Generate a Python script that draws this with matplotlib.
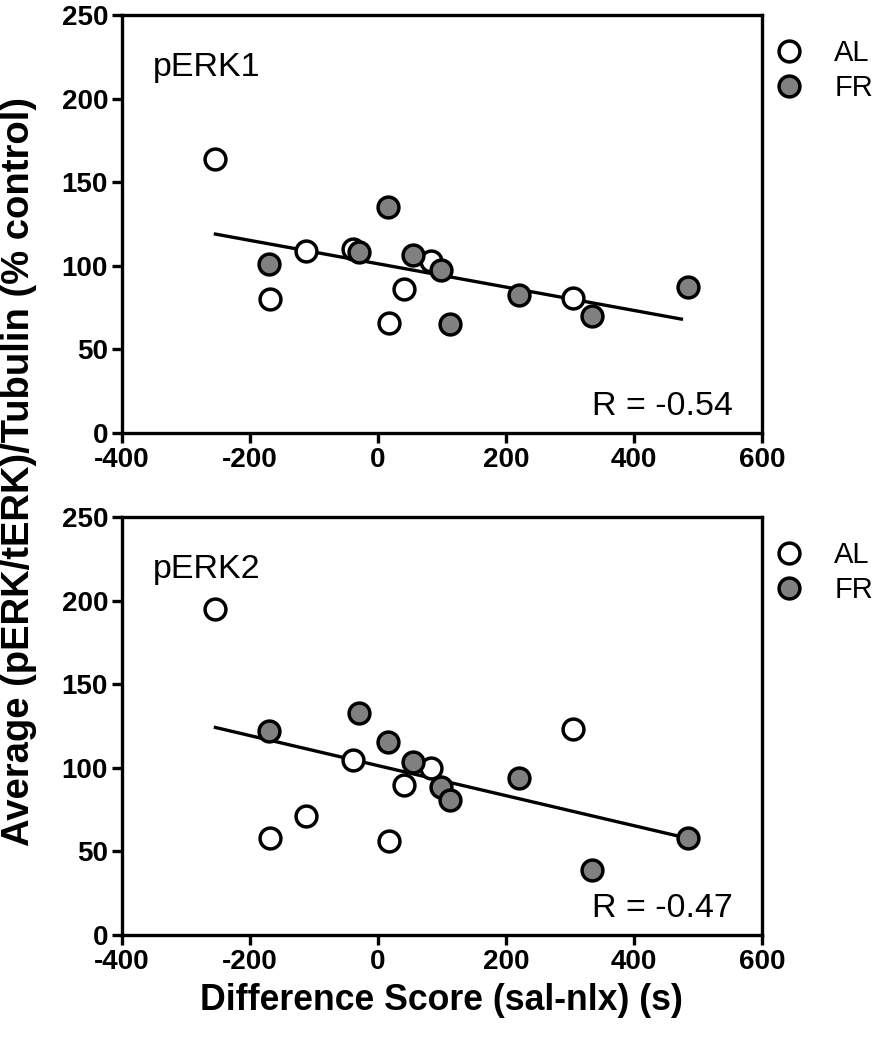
import numpy as np
import matplotlib
matplotlib.use('Agg')
import matplotlib.pyplot as plt

plt.rcParams['font.family'] = ['Liberation Sans', 'DejaVu Sans']
plt.rcParams['axes.unicode_minus'] = False

# values
al_x = [-254, -168, -112, -39, 18, 40, 83, 305]
fr_x = [-170, -29, 15, 54, 99, 113, 221, 335, 484]

erk1_al = [164, 80, 109, 110, 66, 86, 103, 80.5]
erk1_fr = [101, 108, 135, 106.5, 97.5, 65.5, 82.5, 70, 87.5]

erk2_al = [195, 58, 71.5, 105, 56.5, 90, 100, 123]
erk2_fr = [122, 133, 115.5, 103.5, 88.5, 81, 94, 39, 58]

panels = ['pERK1', 'pERK2']
r_labels = ['R = -0.54', 'R = -0.47']
xticks = [-400, -200, 0, 200, 400, 600]
yticks = [0, 50, 100, 150, 200, 250]

fig = plt.figure(figsize=(8.8, 10.5), dpi=100)
ax1 = fig.add_axes([0.1386, 0.5876, 0.7273, 0.398])
ax2 = fig.add_axes([0.1386, 0.1095, 0.7273, 0.398])

for ax, name, rl, al_y, fr_y in [(ax1, panels[0], r_labels[0], erk1_al, erk1_fr),
                                  (ax2, panels[1], r_labels[1], erk2_al, erk2_fr)]:
    # fit line through all points
    xs = np.array(al_x + fr_x, dtype=float)
    ys = np.array(al_y + fr_y, dtype=float)
    m, b = np.polyfit(xs, ys, 1)
    lx = np.array([xs.min(), xs.max() - 10])
    ax.plot(lx, m * lx + b, color='black', lw=2.4, zorder=2)

    ax.plot(al_x, al_y, 'o', ms=15, mfc='white', mec='black', mew=2.5,
            label='AL', zorder=3)
    ax.plot(fr_x, fr_y, 'o', ms=15, mfc='#808080', mec='black', mew=2.5,
            label='FR', zorder=3)

    ax.set_xlim(-400, 600)
    ax.set_ylim(0, 250)
    ax.set_xticks(xticks)
    ax.set_yticks(yticks)
    for s in ax.spines.values():
        s.set_linewidth(2.4)
    ax.tick_params(direction='out', length=7, width=2.4, labelsize=20, pad=3)
    for lab in ax.get_xticklabels() + ax.get_yticklabels():
        lab.set_fontweight('bold')

    ax.text(0.048, 0.855, name, transform=ax.transAxes, fontsize=24.5,
            va='baseline', ha='left')
    ax.text(0.955, 0.043, rl, transform=ax.transAxes, fontsize=24.5,
            va='baseline', ha='right')

    ax.legend(loc='upper left', bbox_to_anchor=(1.0195, 0.943), frameon=False,
              fontsize=21, handlelength=1.0, handletextpad=1.05,
              labelspacing=0.25, borderaxespad=0, borderpad=0)

fig.text(0.022, 0.5505, 'Average (pERK/tERK)/Tubulin (% control)', rotation=90,
         fontsize=27.5, fontweight='bold', ha='center', va='center')
fig.text(0.502, 0.0476, 'Difference Score (sal-nlx) (s)', fontsize=25.7,
         fontweight='bold', ha='center', va='center')

fig.savefig('out.png', dpi=100)
